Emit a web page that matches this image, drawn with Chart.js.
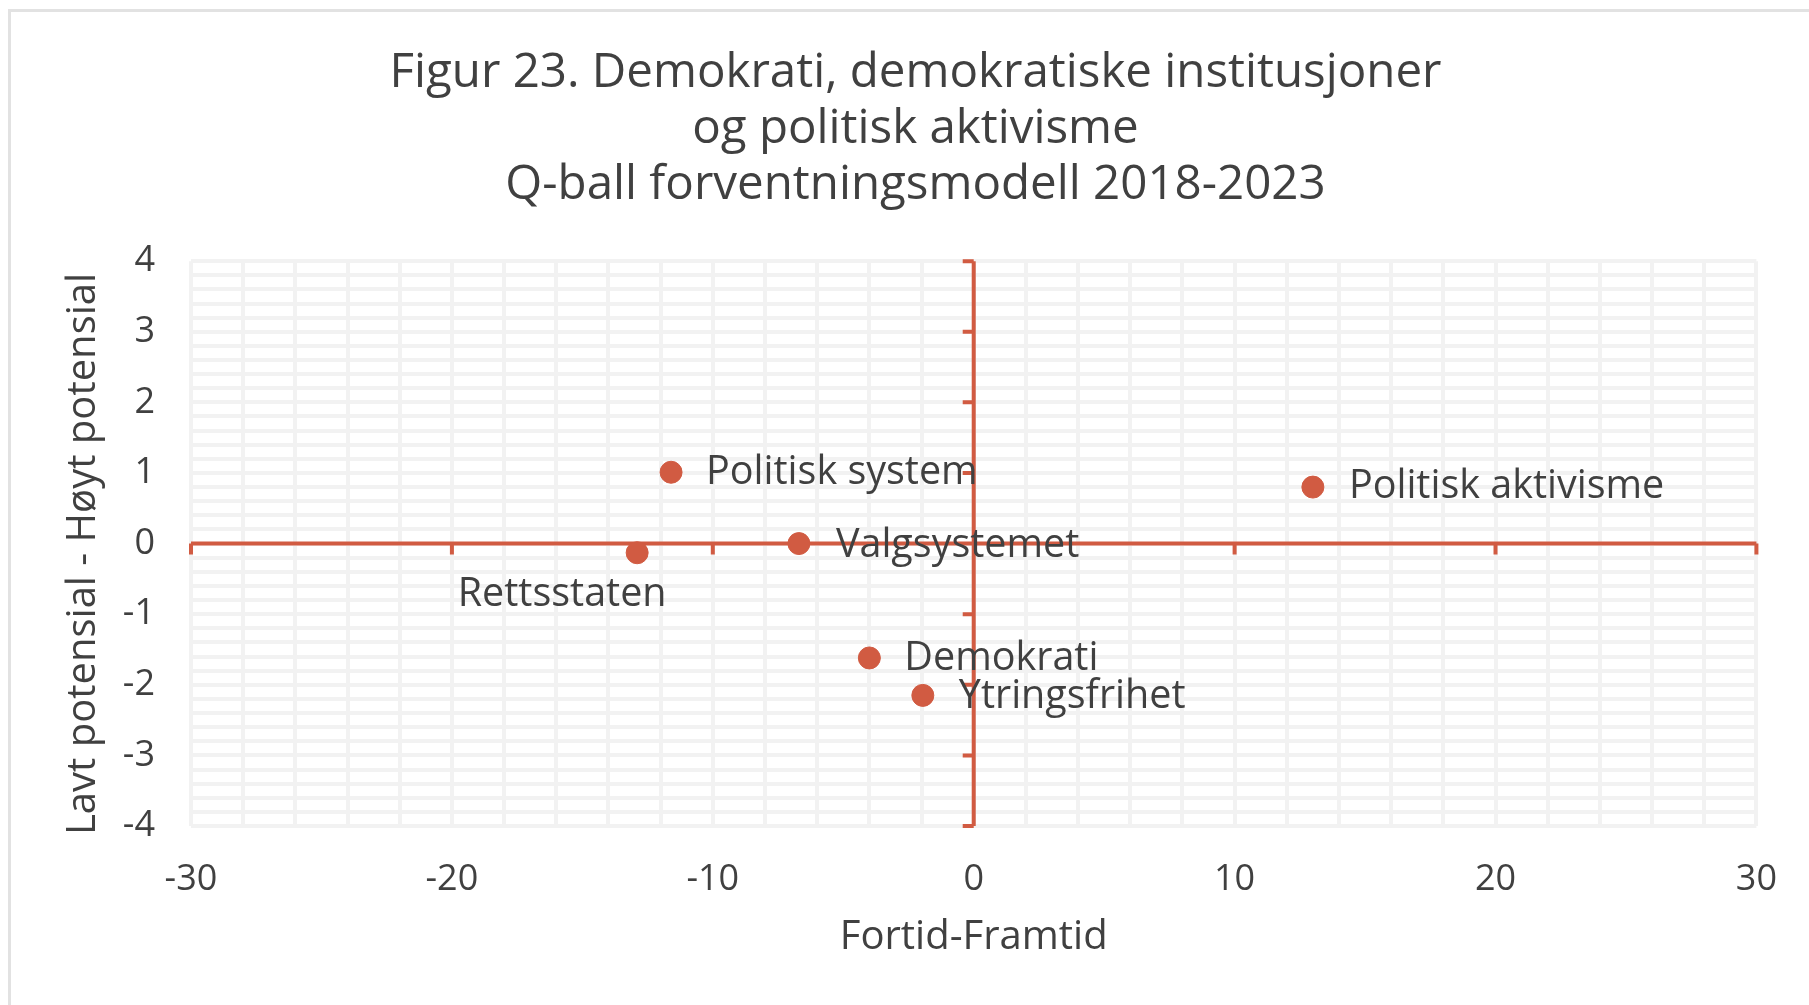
<!DOCTYPE html>
<html>
<head>
<meta charset="utf-8">
<script src="https://cdn.jsdelivr.net/npm/chart.js@4"></script>
<style>
    html, body { margin: 0; padding: 0; background: #fff; }
    #wrap { position: relative; width: 1809px; height: 1005px; overflow: hidden; }
    #frame {
        position: absolute; left: 8px; top: 9px; width: 1900px; height: 1100px;
        border-left: 3px solid #e2e2e2; border-top: 3px solid #e2e2e2;
    }
    #chart { position: absolute; left: 0; top: 0; }
</style>
</head>
<body>
<div id="wrap">
    <div id="frame"></div>
    <canvas id="chart" width="1809" height="1005"></canvas>
</div>
<script>
// Data
const pointNames = ['Politisk system', 'Politisk aktivisme', 'Valgsystemet', 'Rettsstaten', 'Demokrati', 'Ytringsfrihet'];
const fortidFramtid = [-11.6, 13.0, -6.7, -12.9, -4.0, -1.95];
const potensial = [1.01, 0.80, 0.0, -0.13, -1.62, -2.15];
const xTickLabels = [-30, -20, -10, 0, 10, 20, 30];
const yTickLabels = [-4, -3, -2, -1, 0, 1, 2, 3, 4];

// label placement (px offset from the dot, alignment)
const labelPlacement = [
    { dx: 35, dy: 0, align: 'left' },
    { dx: 36, dy: 0, align: 'left' },
    { dx: 37, dy: 2, align: 'left' },
    { dx: -75, dy: 42, align: 'center' },
    { dx: 35, dy: 1, align: 'left' },
    { dx: 36, dy: 1, align: 'left' }
];

const ORANGE = '#D15B42';
const TEXT = '#404040';
const FONT = '"Open Sans"';

const points = fortidFramtid.map((x, i) => ({ x: x, y: potensial[i] }));

// Akser gjennom origo
const crossAxes = {
    id: 'crossAxes',
    beforeDatasetsDraw(chart) {
        const { ctx, scales: { x, y } } = chart;
        const x0 = x.getPixelForValue(0);
        const y0 = y.getPixelForValue(0);
        ctx.save();
        ctx.strokeStyle = ORANGE;
        ctx.lineWidth = 4;
        ctx.beginPath();
        ctx.moveTo(x.left, y0);
        ctx.lineTo(x.right, y0);
        ctx.moveTo(x0, y.top);
        ctx.lineTo(x0, y.bottom);
        xTickLabels.forEach(v => {
            const px = x.getPixelForValue(v);
            ctx.moveTo(px, y0);
            ctx.lineTo(px, y0 + 11);
        });
        yTickLabels.forEach(v => {
            const py = y.getPixelForValue(v);
            ctx.moveTo(x0, py);
            ctx.lineTo(x0 - 11, py);
        });
        ctx.stroke();
        ctx.restore();
    }
};

// Etiketter ved punktene
const pointLabels = {
    id: 'pointLabels',
    afterDatasetsDraw(chart) {
        const { ctx } = chart;
        const meta = chart.getDatasetMeta(0);
        ctx.save();
        ctx.font = `39.5px ${FONT}`;
        ctx.fillStyle = TEXT;
        ctx.textBaseline = 'middle';
        meta.data.forEach((el, i) => {
            const p = labelPlacement[i];
            ctx.textAlign = p.align;
            ctx.fillText(pointNames[i], el.x + p.dx, el.y + p.dy);
        });
        ctx.restore();
    }
};

new Chart(document.getElementById('chart'), {
    type: 'scatter',
    data: {
        datasets: [{
            data: points,
            backgroundColor: ORANGE,
            borderColor: ORANGE,
            pointRadius: 11,
            pointHoverRadius: 11
        }]
    },
    options: {
        responsive: false,
        animation: false,
        layout: { padding: { left: 74, right: 52, top: 0, bottom: 0 } },
        plugins: {
            legend: { display: false },
            tooltip: { enabled: false },
            title: {
                display: true,
                text: ['Figur 23. Demokrati, demokratiske institusjoner', 'og politisk aktivisme', 'Q-ball forventningsmodell 2018-2023'],
                color: TEXT,
                font: { family: FONT, size: 47.5, weight: 'normal', lineHeight: 1.18 },
                padding: { top: 45, bottom: 48 }
            }
        },
        scales: {
            x: {
                type: 'linear',
                min: -30, max: 30,
                afterFit: s => { s.height = 179; },
                ticks: {
                    stepSize: 2,
                    autoSkip: false,
                    maxRotation: 0,
                    padding: 32,
                    color: TEXT,
                    font: { family: FONT, size: 36 },
                    callback: v => xTickLabels.includes(Math.round(v)) && Math.abs(v - Math.round(v)) < 1e-6 ? String(Math.round(v)) : ''
                },
                grid: { color: '#f2f2f2', lineWidth: 4, drawTicks: false },
                border: { display: false },
                title: {
                    display: true,
                    text: 'Fortid-Framtid',
                    color: TEXT,
                    font: { family: FONT, size: 40, lineHeight: 1.2 },
                    padding: { top: 0, bottom: 43 }
                }
            },
            y: {
                type: 'linear',
                min: -4, max: 4,
                afterFit: s => { s.width = 117; },
                ticks: {
                    stepSize: 0.2,
                    autoSkip: false,
                    padding: 36,
                    color: TEXT,
                    font: { family: FONT, size: 36 },
                    callback: v => Math.abs(v - Math.round(v)) < 1e-6 && yTickLabels.includes(Math.round(v)) ? String(Math.round(v)) : ''
                },
                grid: { color: '#f2f2f2', lineWidth: 4, drawTicks: false },
                border: { display: false },
                title: {
                    display: true,
                    text: 'Lavt potensial - Høyt potensial  ',
                    color: TEXT,
                    font: { family: FONT, size: 40, lineHeight: 1.2 },
                    padding: { top: -14, bottom: 0 }
                }
            }
        }
    },
    plugins: [crossAxes, pointLabels]
});
</script>
</body>
</html>
